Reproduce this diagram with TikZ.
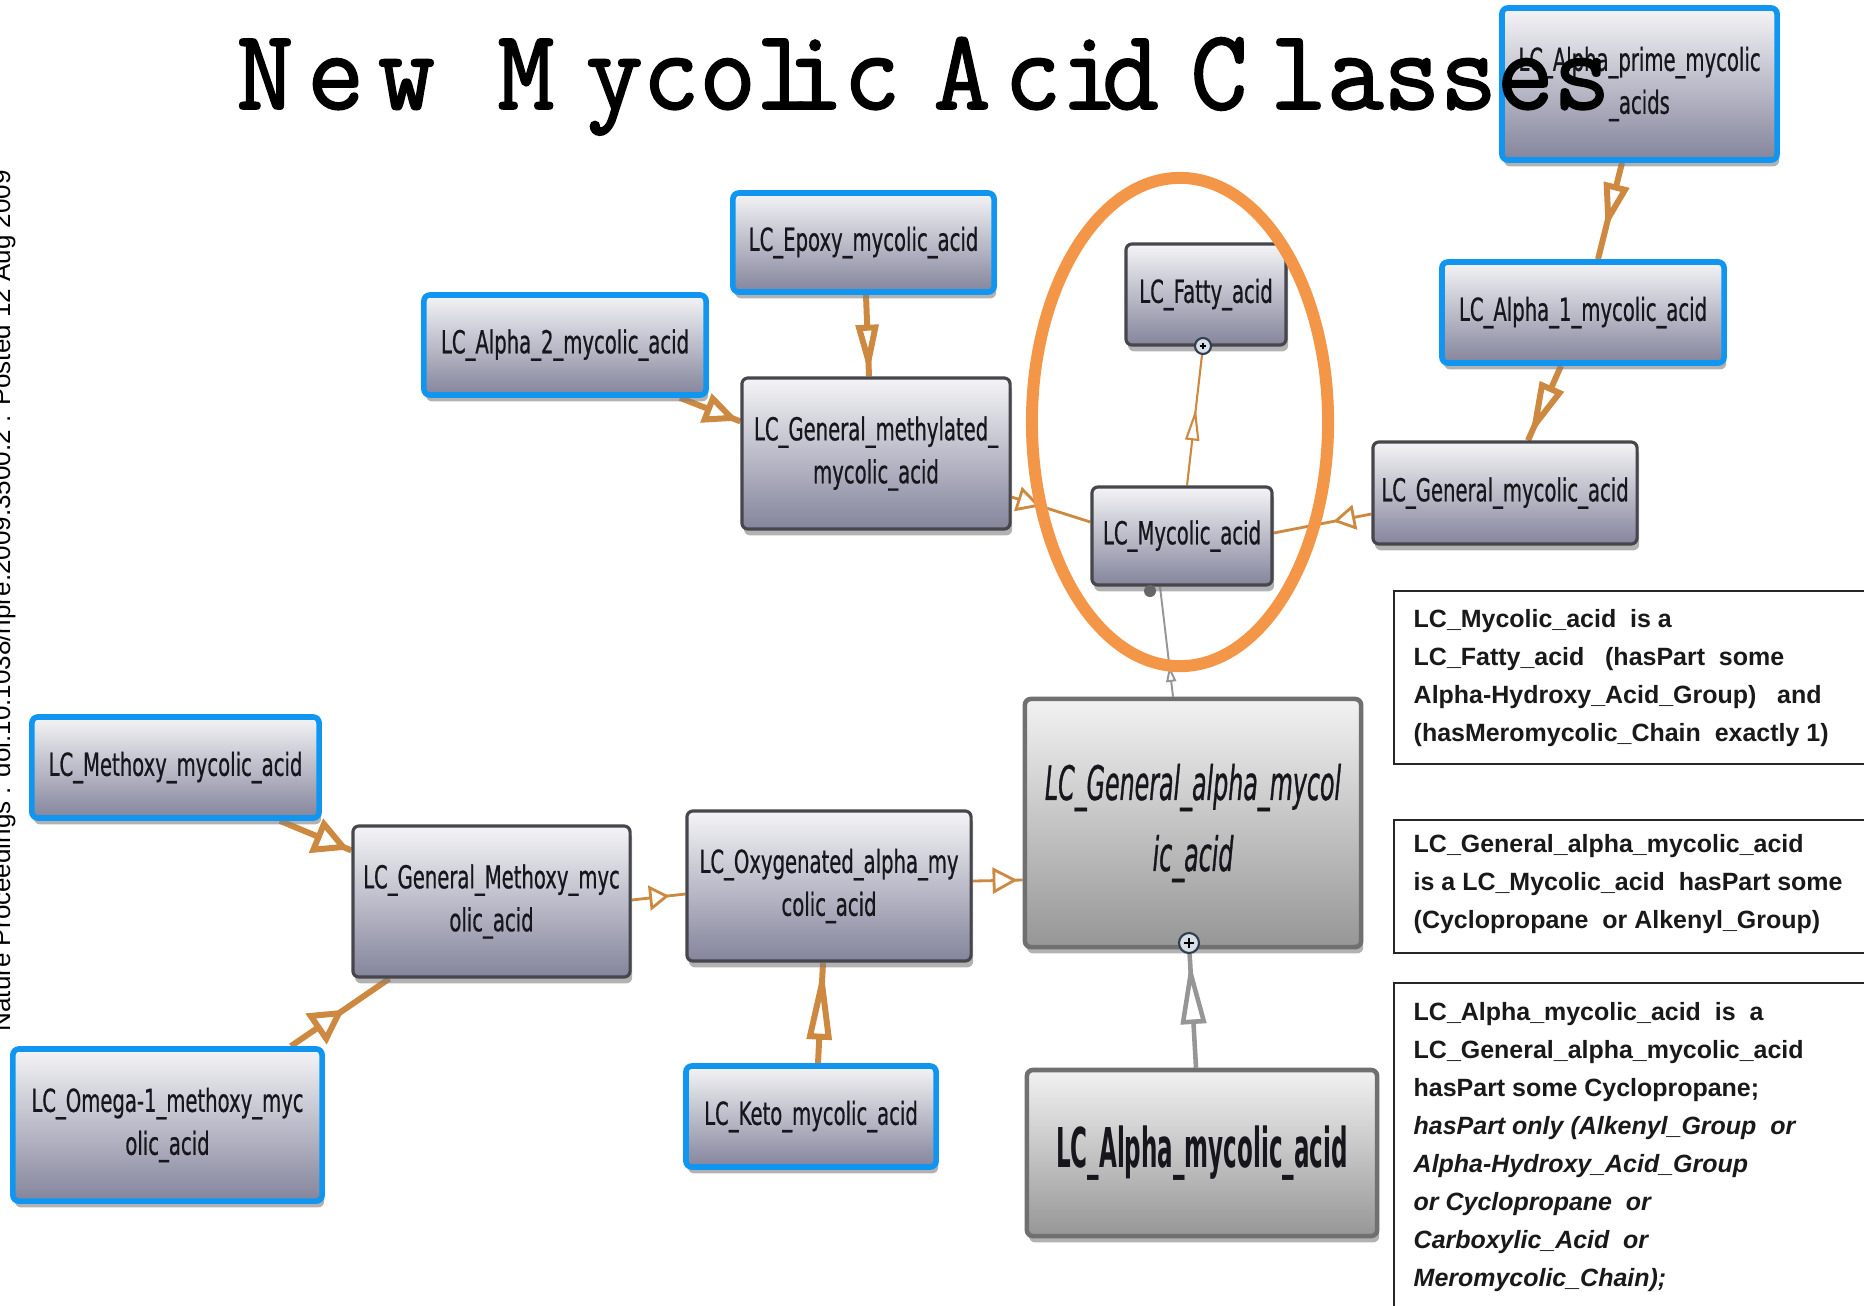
\documentclass[tikz,border=0pt]{standalone}
\usepackage{fontspec}
\setmainfont{Liberation Sans}
\newfontfamily\labelfont[FakeStretch=0.62, FakeBold=0.6]{DejaVu Sans}
\newfontfamily\bigfont[FakeStretch=0.5, FakeBold=0.6]{DejaVu Sans}
\newfontfamily\heavyfont[FakeStretch=0.42]{DejaVu Sans}
\newfontfamily\titlefont[FakeStretch=0.96, FakeBold=1.6]{Latin Modern Mono}
\usetikzlibrary{arrows.meta,shadows,decorations.markings,calc}
\pgfdeclarelayer{background}
\pgfsetlayers{background,main}

\definecolor{nodeTop}{RGB}{244,244,247}
\definecolor{nodeBot}{RGB}{132,132,156}
\definecolor{nodeEdge}{RGB}{70,70,76}
\definecolor{nodeText}{RGB}{22,22,28}
\definecolor{grayTop}{RGB}{242,242,242}
\definecolor{grayBot}{RGB}{150,150,150}
\definecolor{grayEdge}{RGB}{112,112,112}
\definecolor{leafBlue}{RGB}{16,150,240}
\definecolor{isaOrange}{RGB}{205,137,64}
\definecolor{isaGray}{RGB}{150,150,150}
\definecolor{ringOrange}{RGB}{244,150,72}
\definecolor{plusFill}{RGB}{215,222,232}
\definecolor{plusEdge}{RGB}{50,62,80}

\begin{document}
\begin{tikzpicture}[x=0.01cm, y=-0.01cm,
  cls/.style={rectangle, rounded corners=0.06cm, draw=nodeEdge, line width=0.9pt,
    top color=nodeTop, bottom color=nodeBot,
    drop shadow={shadow xshift=0.6pt, shadow yshift=-1.8pt, opacity=0.6},
    inner sep=0pt, align=center, text=nodeText,
    font=\labelfont\fontsize{9}{12.2}\selectfont},
  leafcls/.style={cls, draw=leafBlue, line width=1.6pt},
  bigcls/.style={cls, draw=grayEdge, line width=1.3pt, top color=grayTop, bottom color=grayBot},
  plusmark/.style={circle, draw=plusEdge, fill=plusFill, line width=0.6pt, inner sep=0pt,
    minimum size=#1,
    path picture={\draw[black, line width=0.7pt]
      ([yshift=-1.3pt]path picture bounding box.north) -- ([yshift=1.3pt]path picture bounding box.south)
      ([xshift=1.3pt]path picture bounding box.west) -- ([xshift=-1.3pt]path picture bounding box.east);}},
  isa/.style={draw=isaOrange, line width=1.7pt},
  isathin/.style={draw=isaOrange, line width=0.8pt},
  isagray/.style={draw=isaGray, line width=1.3pt},
  isagraythin/.style={draw=isaGray, line width=0.55pt},
  headat/.style n args={3}{postaction={decorate, decoration={markings,
    mark=at position #1 with {\arrow{Triangle[length=#2, width=#3, fill=white]}}}}},
  defbox/.style={draw=black!85, line width=0.6pt},
  deftext/.style={anchor=north west, inner sep=0pt, align=left, text=black!90,
    font=\bfseries\fontsize{7.1}{10.8}\selectfont},
  titletext/.style={anchor=base west, inner sep=0pt, text=black,
    font=\titlefont\fontsize{32.6}{38}\selectfont},
  ring/.style={draw=ringOrange, line width=3.4pt}
]
\useasboundingbox (0,0) rectangle (1864,1305);
\clip (0,0) rectangle (1864,1305);

% class boxes
\node[leafcls, minimum width=2.75cm, minimum height=1.52cm] (prime) at (1639.5,84) {LC\_Alpha\_prime\_mycolic\\\_acids};
\node[leafcls, minimum width=2.82cm, minimum height=1.01cm] (alpha1) at (1583,312.5) {LC\_Alpha\_1\_mycolic\_acid};
\node[leafcls, minimum width=2.61cm, minimum height=0.99cm] (epoxy) at (863.5,242.5) {LC\_Epoxy\_mycolic\_acid};
\node[leafcls, minimum width=2.82cm, minimum height=1.00cm] (alpha2) at (565,345) {LC\_Alpha\_2\_mycolic\_acid};
\node[cls, minimum width=1.60cm, minimum height=1.01cm] (fatty) at (1206,294.5) {LC\_Fatty\_acid};
\node[cls, minimum width=2.68cm, minimum height=1.51cm] (genmeth) at (876,453.5) {LC\_General\_methylated\_\\mycolic\_acid};
\node[cls, minimum width=1.80cm, minimum height=0.98cm] (mycolic) at (1182,536) {LC\_Mycolic\_acid};
\node[cls, minimum width=2.64cm, minimum height=1.02cm] (genmyc) at (1505,493) {LC\_General\_mycolic\_acid};
\node[bigcls, minimum width=3.36cm, minimum height=2.48cm,
  font=\bigfont\itshape\fontsize{13.5}{20.2}\selectfont] (genalpha) at (1193,823) {LC\_General\_alpha\_mycol\\ic\_acid};
\node[bigcls, minimum width=3.50cm, minimum height=1.66cm,
  font=\heavyfont\bfseries\fontsize{15.6}{18}\selectfont] (alphamyc) at (1202,1153) {LC\_Alpha\_mycolic\_acid};
\node[leafcls, minimum width=2.87cm, minimum height=1.01cm] (methoxy) at (175.5,767.5) {LC\_Methoxy\_mycolic\_acid};
\node[cls, minimum width=2.77cm, minimum height=1.51cm] (genmethoxy) at (491.5,901.5) {LC\_General\_Methoxy\_myc\\olic\_acid};
\node[cls, minimum width=2.84cm, minimum height=1.50cm] (oxy) at (829,886) {LC\_Oxygenated\_alpha\_my\\colic\_acid};
\node[leafcls, minimum width=3.09cm, minimum height=1.52cm] (omega) at (167.5,1125) {LC\_Omega-1\_methoxy\_myc\\olic\_acid};
\node[leafcls, minimum width=2.50cm, minimum height=1.01cm] (keto) at (811,1116.5) {LC\_Keto\_mycolic\_acid};

% expand markers
\node[plusmark=0.16cm] (fattyplus) at (1203,346) {};
\node[plusmark=0.2cm] (gaplus) at (1189,943) {};
\node[circle, fill=black!60, minimum size=0.12cm, inner sep=0pt] (mycplus) at (1150,591) {};

% is-a connectors
\begin{pgfonlayer}{background}
\fill[white] (0,0) rectangle (1864,1305);
\draw[isa, headat={0.69}{0.46cm}{0.25cm}] ($(prime.south)+(-17.5,0)$) -- ($(alpha1.north)+(15,0)$);
\draw[isa, headat={0.95}{0.55cm}{0.25cm}] ($(alpha1.south)+(-22,0)$) -- ($(genmyc.north)+(23,0)$);
\draw[isa, headat={0.98}{0.5cm}{0.22cm}] ($(epoxy.south)+(2.5,0)$) -- ($(genmeth.north)+(-7,0)$);
\draw[isa, headat={0.97}{0.35cm}{0.3cm}] ($(alpha2.south east)+(-29,0)$) -- ($(genmeth.north west)+(0,45)$);
\draw[isathin, headat={0.37}{0.24cm}{0.25cm}] ($(genmeth.east)+(0,43.5)$) -- ($(mycolic.west)+(0,-14)$);
\draw[isathin, headat={0.39}{0.22cm}{0.25cm}] ($(genmyc.west)+(0,21)$) -- ($(mycolic.east)+(0,-3)$);
\draw[isathin, line width=0.6pt, headat={0.59}{0.32cm}{0.14cm}] ($(mycolic.north)+(5,0)$) -- (fattyplus);
\draw[isagraythin, headat={0.28}{0.16cm}{0.1cm}] ($(genalpha.north)+(-20,0)$) -- ($(mycolic.south)+(-22,0)$);
\draw[isagray, headat={0.93}{0.62cm}{0.25cm}] ($(alphamyc.north)+(-6,0)$) -- (gaplus);
\draw[isa, headat={0.97}{0.36cm}{0.36cm}] ($(methoxy.south east)+(-42,0)$) -- ($(genmethoxy.north west)+(0,26)$);
\draw[isa, headat={0.54}{0.34cm}{0.36cm}] ($(omega.north east)+(-34,0)$) -- ($(genmethoxy.south west)+(38,0)$);
\draw[isathin, headat={0.70}{0.2cm}{0.25cm}] ($(genmethoxy.east)+(0,-1.5)$) -- ($(oxy.west)+(0,8)$);
\draw[isathin, headat={0.90}{0.25cm}{0.26cm}] ($(oxy.east)+(0,-5)$) -- ($(genalpha.west)+(0,57)$);
\draw[isa, headat={0.98}{0.75cm}{0.24cm}] ($(keto.north)+(7,0)$) -- ($(oxy.south)+(-6,0)$);
\end{pgfonlayer}

% highlight ring
\draw[ring] (1180,422) ellipse [x radius=1.48cm, y radius=2.44cm];

% definition boxes
\draw[defbox] (1394,591) rectangle (1890,764);
\draw[defbox] (1394,820) rectangle (1890,953);
\draw[defbox] (1394,983) rectangle (1890,1330);
\node[deftext] (defa) at (1413,609) {LC\_Mycolic\_acid~~is a\\
LC\_Fatty\_acid~~~(hasPart~~some\\
Alpha-Hydroxy\_Acid\_Group)~~~and\\
(hasMeromycolic\_Chain~~exactly~1)};
\node[deftext] (defb) at (1413,834) {LC\_General\_alpha\_mycolic\_acid\\
is a LC\_Mycolic\_acid~~hasPart~some\\
(Cyclopropane~~or Alkenyl\_Group)};
\node[deftext] (defc) at (1413,1002) {LC\_Alpha\_mycolic\_acid~~is~~a\\
LC\_General\_alpha\_mycolic\_acid\\
hasPart some Cyclopropane;\\
\itshape hasPart only (Alkenyl\_Group~~or\\
\itshape Alpha-Hydroxy\_Acid\_Group\\
\itshape or Cyclopropane~~or\\
\itshape Carboxylic\_Acid~~or\\
\itshape Meromycolic\_Chain);};

% title
\node[titletext] (tnew) at (236,109) {N\kern4pt e\kern4pt w};
\node[titletext] (tmyc) at (497,109) {M\kern9pt ycol\kern-7.4pt ic};
\node[titletext] (tacid) at (933,109) {A\kern4pt ci\kern-4.5pt d};
\node[titletext] (tcls) at (1190,109) {C\kern6.5pt lasses};

% side stamp
\node[rotate=90, anchor=base west, inner sep=0pt, font=\fontsize{7.4}{9}\selectfont] (stamp) at (10,1032)
  {Nature Proceedings : doi:10.1038/npre.2009.3500.2 : Posted 12 Aug 2009};
\end{tikzpicture}
\end{document}
